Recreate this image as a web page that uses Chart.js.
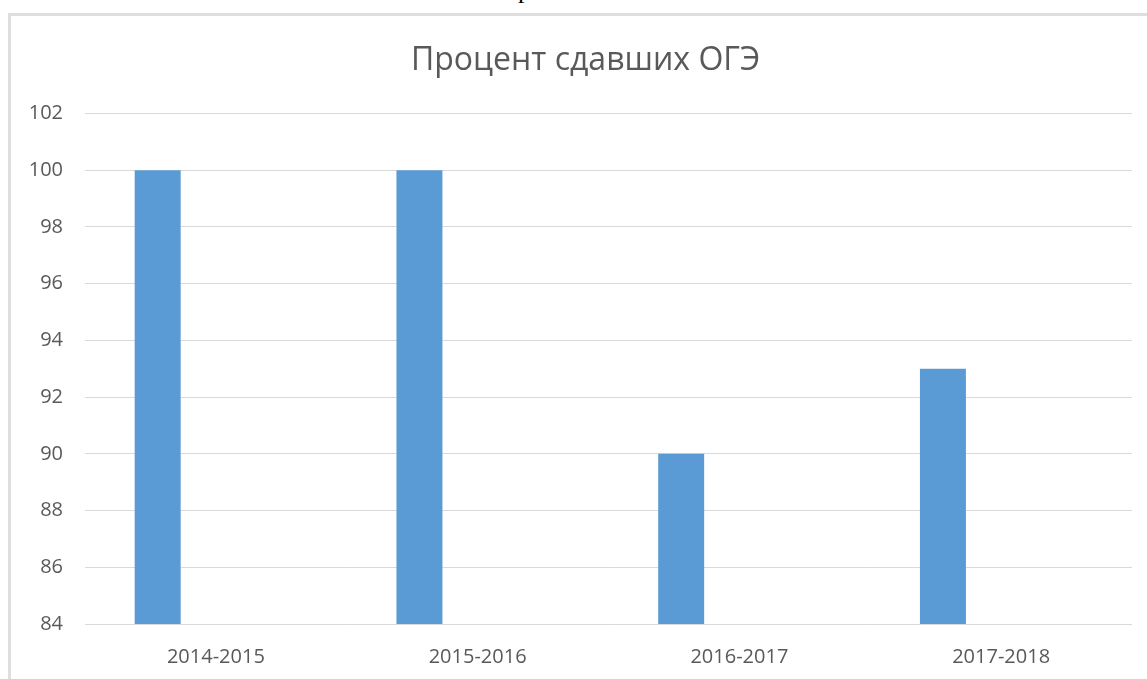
<!DOCTYPE html>
<html>
<head>
<meta charset="utf-8">
<script src="https://cdn.jsdelivr.net/npm/chart.js@4.4.1/dist/chart.umd.min.js"></script>
<style>
  html, body { margin: 0; padding: 0; background: #fff; overflow: hidden; }
  body { width: 1147px; height: 679px; position: relative; }
  .frame { position: absolute; left: 8px; top: 13px; width: 1200px; height: 700px;
    border-left: 3px solid #dedede; border-top: 3px solid #dedede; }
  .wrap { position: absolute; left: 10px; top: 15px; width: 1151px; height: 664px; }
  .cut { position: absolute; left: 518px; top: -25px; font: 26px 'Liberation Serif', serif; color: #000; }
</style>
</head>
<body>
<div class="cut">р</div>
<div class="frame"></div>
<div class="wrap"><canvas id="chart" width="1151" height="664"></canvas></div>
<script>
const chartTitle = 'Процент сдавших ОГЭ';
const years = ['2014-2015', '2015-2016', '2016-2017', '2017-2018'];
const passedPercent = [100, 100, 90, 93];
const emptySeries = [];

const textColor = '#595959';
const gridColor = '#d9d9d9';

const ctx = document.getElementById('chart').getContext('2d');
new Chart(ctx, {
  type: 'bar',
  data: {
    labels: years,
    datasets: [
      { label: 'Ряд1', data: passedPercent, backgroundColor: '#5b9bd5', barPercentage: .79, categoryPercentage: .667 },
      { label: 'Ряд2', data: emptySeries, backgroundColor: '#ed7d31', barPercentage: .79, categoryPercentage: .667 },
      { label: 'Ряд3', data: emptySeries, backgroundColor: '#a5a5a5', barPercentage: .79, categoryPercentage: .667 }
    ]
  },
  options: {
    responsive: false,
    animation: false,
    layout: { padding: 0 },
    plugins: {
      legend: { display: false },
      tooltip: { enabled: false },
      title: {
        display: true,
        text: chartTitle,
        color: textColor,
        font: { family: 'Open Sans', size: 32, weight: 'normal', lineHeight: 1.2 },
        padding: { top: 27, bottom: 33 }
      }
    },
    scales: {
      x: {
        grid: { display: false },
        border: { display: false },
        ticks: { color: textColor, font: { family: 'Open Sans', size: 20 }, padding: 13, maxRotation: 0 },
        afterFit: scale => { scale.height = 55; }
      },
      y: {
        min: 84,
        max: 102,
        grid: { color: gridColor, lineWidth: 1, drawTicks: false },
        border: { display: false },
        ticks: { stepSize: 2, color: textColor, font: { family: 'Open Sans', size: 20 }, padding: 22 },
        afterFit: scale => { scale.width = 75; }
      },
      // empty right margin so the title stays centred on the full chart box
      spacer: {
        position: 'right',
        grid: { display: false },
        border: { display: false },
        ticks: { display: false },
        afterFit: scale => { scale.width = 29; }
      }
    }
  }
});
</script>
</body>
</html>
